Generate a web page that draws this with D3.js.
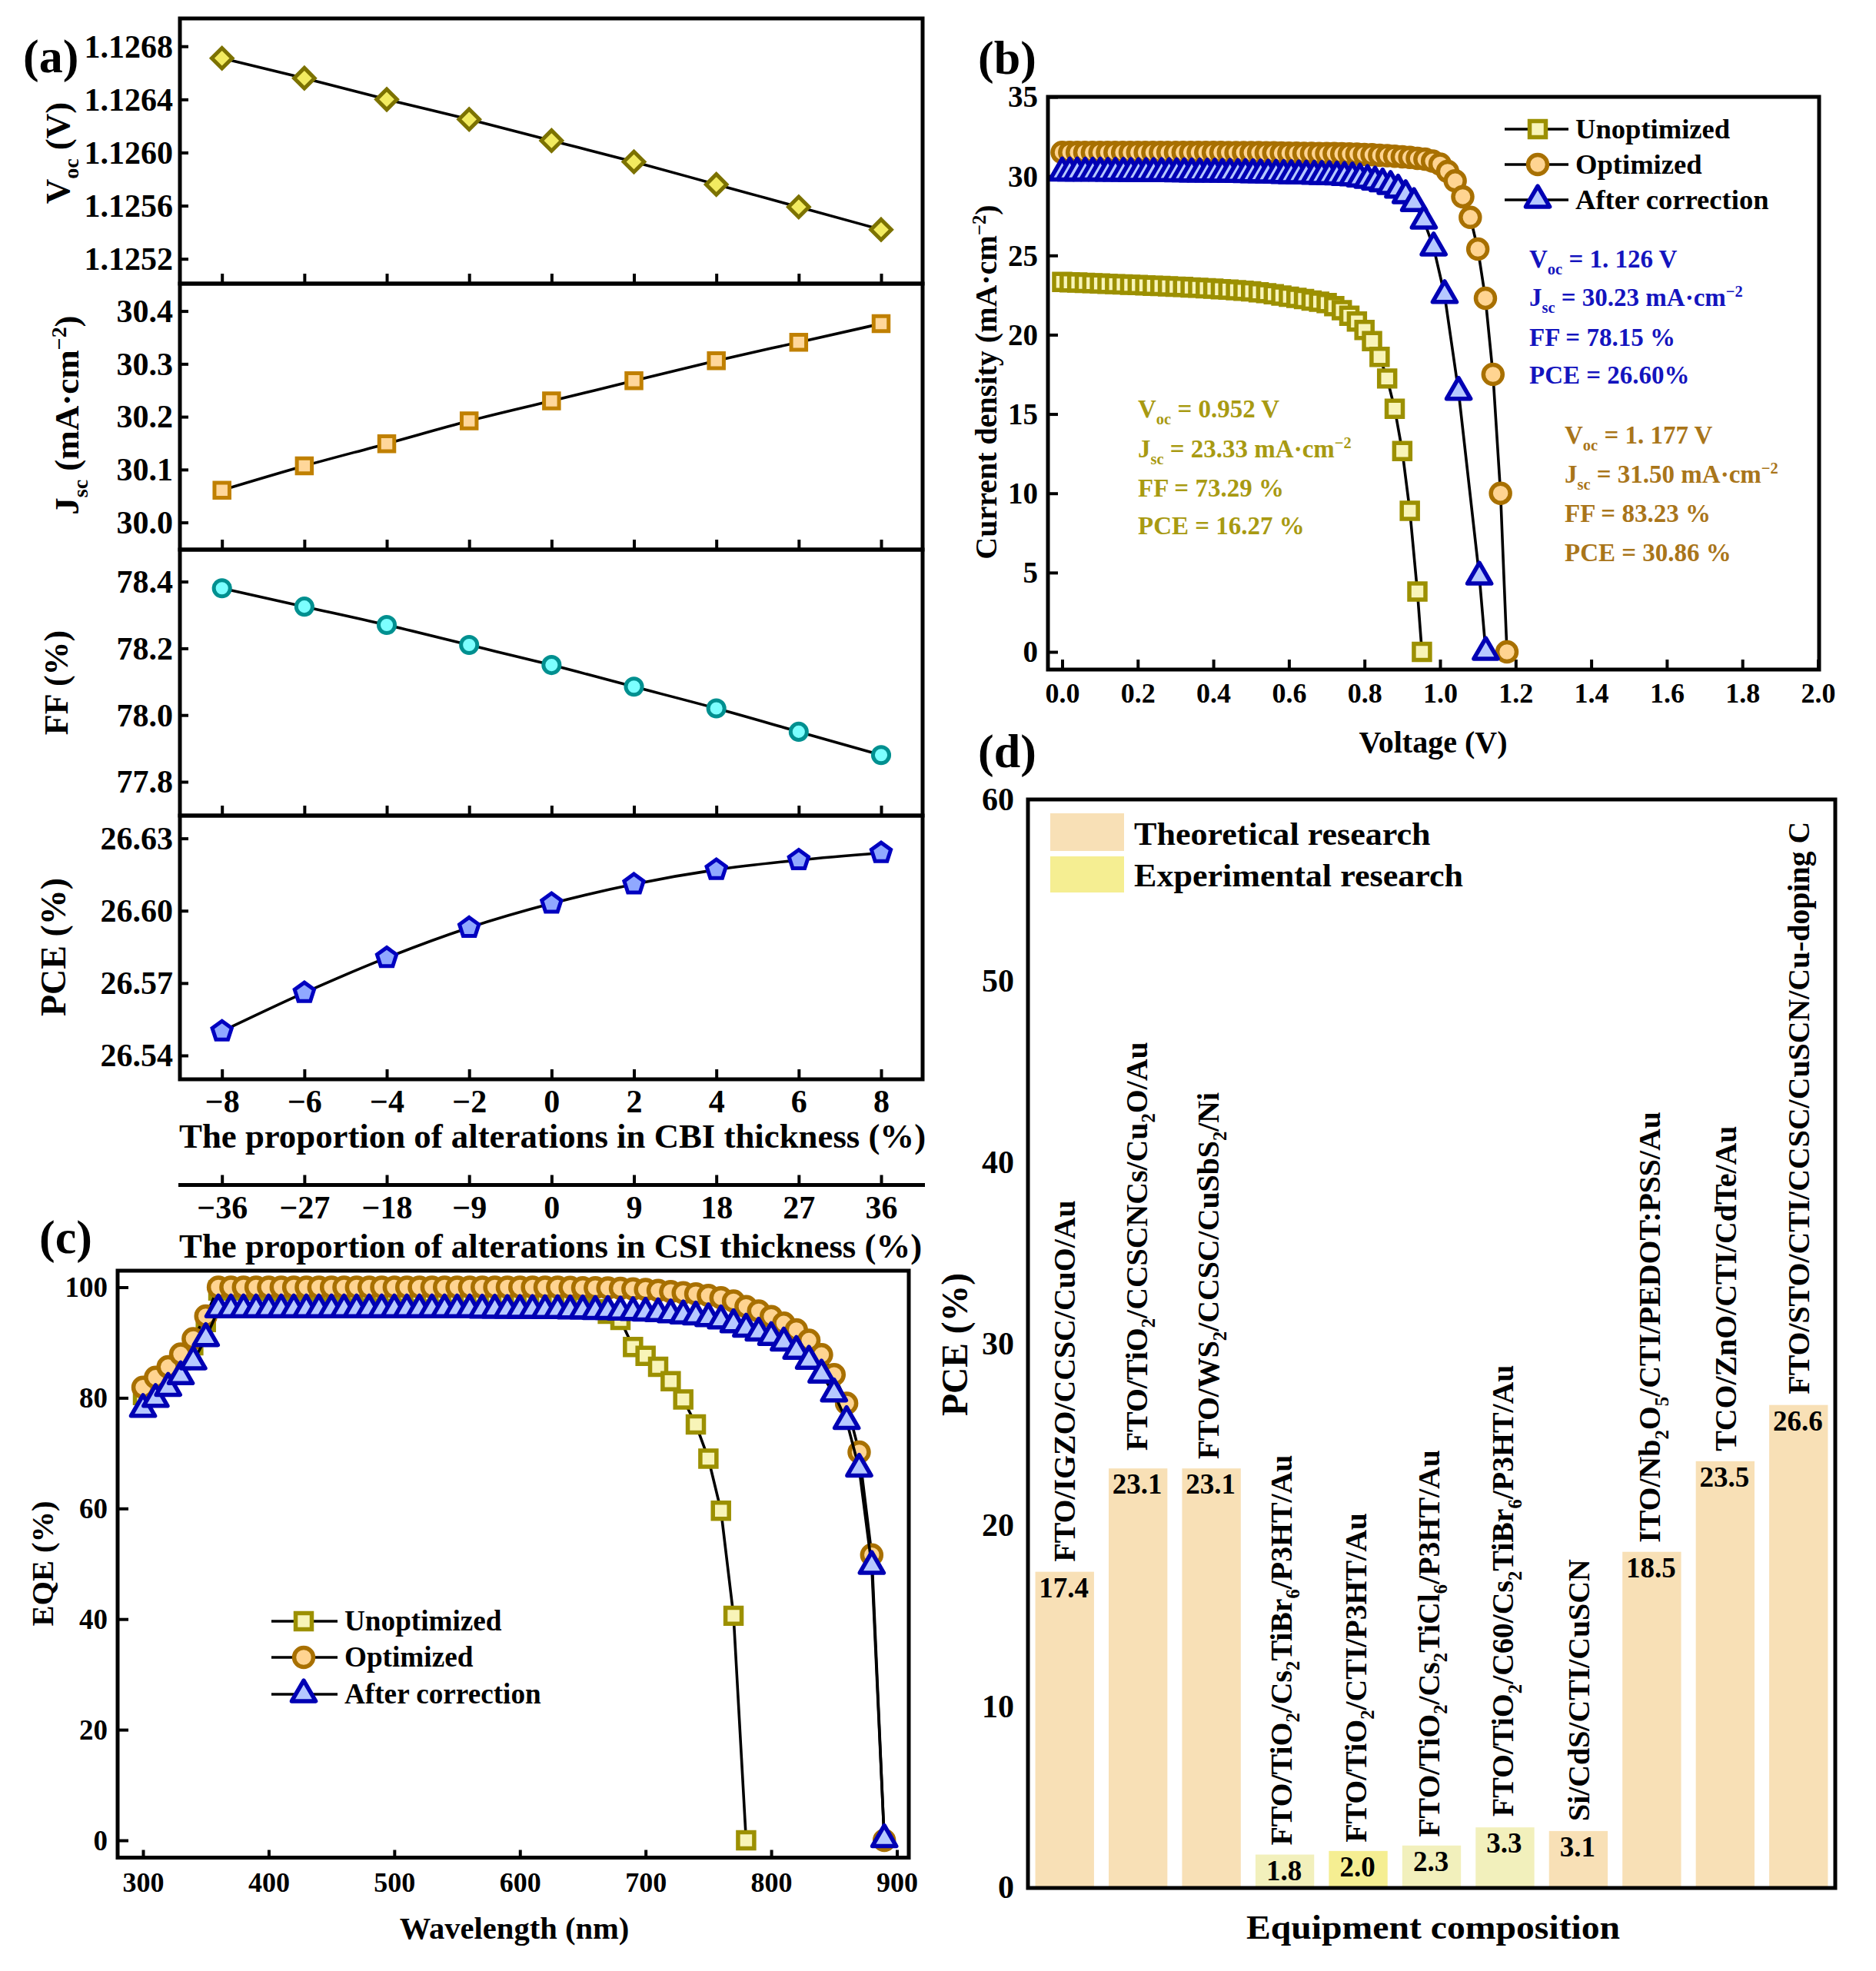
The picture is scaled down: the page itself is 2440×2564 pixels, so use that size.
<!DOCTYPE html>
<html><head><meta charset="utf-8">
<script src="https://cdnjs.cloudflare.com/ajax/libs/d3/7.8.5/d3.min.js"></script>
<style>html,body{margin:0;padding:0;background:#fff}svg{display:block}text{font-family:"Liberation Serif",serif;font-weight:bold}</style>
</head><body><svg id="c" width="2440" height="2564" viewBox="0 0 2440 2564"></svg>
<script>
// ---------- panel (a) data ----------
const cbiChange=[-8,-6,-4,-2,0,2,4,6,8];
const csiChange=[-36,-27,-18,-9,0,9,18,27,36];
const vocValues=[1.12671,1.12656,1.1264,1.12625,1.12609,1.12593,1.12576,1.12559,1.12542];
const jscValues=[30.061,30.107,30.149,30.192,30.230,30.268,30.306,30.341,30.376];
const ffValues=[78.38,78.325,78.27,78.21,78.15,78.085,78.02,77.95,77.88];
const pceValues=[26.550,26.566,26.5805,26.593,26.603,26.611,26.617,26.621,26.624];
const vocTicks=[1.1252,1.1256,1.126,1.1264,1.1268];
const jscTicks=[30.0,30.1,30.2,30.3,30.4];
const ffTicks=[77.8,78.0,78.2,78.4];
const pceTicks=[26.54,26.57,26.60,26.63];
// ---------- panel (b) data ----------
const jvVoltUnopt=[0,.02,.04,.06,.08,.10,.12,.14,.16,.18,.20,.22,.24,.26,.28,.30,.32,.34,.36,.38,.40,.42,.44,.46,.48,.50,.52,.54,.56,.58,.60,.62,.64,.66,.68,.70,.72,.74,.76,.78,.80,.82,.84,.86,.88,.90,.92,.94,.952];
const jvCurrUnopt=[23.33,23.31,23.29,23.27,23.25,23.23,23.21,23.19,23.17,23.15,23.13,23.11,23.09,23.07,23.05,23.03,23.01,22.98,22.96,22.93,22.90,22.87,22.84,22.81,22.77,22.73,22.68,22.62,22.55,22.47,22.40,22.32,22.25,22.15,22.08,22.0,21.8,21.55,21.2,20.83,20.3,19.6,18.6,17.24,15.33,12.66,8.9,3.8,0];
const jvVoltOpt=[0,.02,.04,.06,.08,.10,.12,.14,.16,.18,.20,.22,.24,.26,.28,.30,.32,.34,.36,.38,.40,.42,.44,.46,.48,.50,.52,.54,.56,.58,.60,.62,.64,.66,.68,.70,.72,.74,.76,.78,.80,.82,.84,.86,.88,.90,.92,.94,.96,.98,1.0,1.02,1.04,1.06,1.08,1.10,1.12,1.14,1.16,1.177];
const jvCurrOpt=[31.5,31.5,31.5,31.5,31.5,31.5,31.5,31.5,31.5,31.5,31.5,31.5,31.5,31.5,31.5,31.5,31.5,31.5,31.5,31.5,31.5,31.5,31.49,31.49,31.49,31.48,31.48,31.47,31.47,31.46,31.45,31.45,31.44,31.44,31.43,31.42,31.42,31.41,31.40,31.39,31.37,31.35,31.32,31.29,31.26,31.22,31.18,31.12,31.07,30.95,30.76,30.3,29.7,28.7,27.4,25.4,22.3,17.5,10.0,0];
const jvVoltCorr=[0,.020,.040,.061,.081,.101,.121,.141,.162,.182,.202,.222,.242,.263,.283,.303,.323,.343,.364,.384,.404,.424,.444,.465,.485,.505,.525,.545,.566,.586,.606,.626,.646,.667,.687,.707,.727,.747,.768,.788,.808,.828,.848,.869,.889,.909,.931,.957,.983,1.012,1.049,1.104,1.121];
const jvCurrCorr=[30.23,30.23,30.23,30.22,30.22,30.22,30.21,30.21,30.21,30.2,30.2,30.2,30.19,30.19,30.19,30.18,30.18,30.17,30.17,30.16,30.16,30.15,30.15,30.14,30.13,30.12,30.11,30.10,30.09,30.07,30.06,30.05,30.04,30.02,30.01,30.0,29.98,29.95,29.92,29.85,29.76,29.66,29.54,29.38,29.15,28.8,28.3,27.2,25.5,22.5,16.4,4.75,0];
const voltTicks=[0,.2,.4,.6,.8,1.0,1.2,1.4,1.6,1.8,2.0];
const currTicks=[0,5,10,15,20,25,30,35];
// ---------- panel (c) data ----------
const wavelengths=[300,310,320,330,340,350,360,370,380,390,400,410,420,430,440,450,460,470,480,490,500,510,520,530,540,550,560,570,580,590,600,610,620,630,640,650,660,670,680,690,700,710,720,730,740,750,760,770,780,790,800,810,820,830,840,850,860,870,880,890];
const eqeUnopt=[80.5,82.5,84.5,86.8,89.5,93.7,99.4,99.4,99.4,99.4,99.3,99.3,99.3,99.3,99.2,99.2,99.2,99.1,99.1,99.1,99.0,99.0,98.9,98.9,98.8,98.8,98.7,98.7,98.6,98.6,98.5,98.3,98.0,97.7,97.2,96.6,96.0,95.2,94.1,89.2,87.6,85.6,83,79.7,75.2,69,59.6,40.6,0];
const eqeOpt=[81.9,83.7,85.6,87.9,90.7,94.8,100,100,100,100,100,100,100,100,100,100,100,100,100,100,100,100,100,100,100,100,100,100,100,100,100,100,100,100,99.95,99.9,99.9,99.85,99.8,99.7,99.6,99.4,99.2,99,98.8,98.5,98.1,97.5,96.5,95.7,94.7,93.5,92.3,90.4,87.8,84.2,79,70.2,51.6,0];
const eqeCorr=[78,79.8,81.8,83.9,86.6,90.8,96,96,96,96,96,96,96,96,96,96,96,96,96,96,96,96,96,96,96,96,96,95.95,95.95,95.9,95.9,95.9,95.85,95.85,95.8,95.8,95.7,95.7,95.6,95.5,95.4,95.3,95.1,94.9,94.7,94.4,94,93.3,92.5,91.8,91,90,88.5,86.7,84.2,80.8,75.8,67.2,49.6,0.2];
const wlTicks=[300,400,500,600,700,800,900];
const eqeTicks=[0,20,40,60,80,100];
// ---------- panel (d) data ----------
const deviceNames=["FTO/IGZO/CCSC/CuO/Au","FTO/TiO_{2}/CCSCNCs/Cu_{2}O/Au","FTO/WS_{2}/CCSC/CuSbS_{2}/Ni","FTO/TiO_{2}/Cs_{2}TiBr_{6}/P3HT/Au","FTO/TiO_{2}/CTI/P3HT/Au","FTO/TiO_{2}/Cs_{2}TiCl_{6}/P3HT/Au","FTO/TiO_{2}/C60/Cs_{2}TiBr_{6}/P3HT/Au","Si/CdS/CTI/CuSCN","ITO/Nb_{2}O_{5}/CTI/PEDOT:PSS/Au","TCO/ZnO/CTI/CdTe/Au","FTO/STO/CTI/CCSC/CuSCN/Cu-doping C"];
const devicePCE=[17.4,23.1,23.1,1.8,2.0,2.3,3.3,3.1,18.5,23.5,26.6];
const deviceKind=["T","T","T","E1","E2","E1","E1","T","T","T","T"];
const pceBarTicks=[0,10,20,30,40,50,60];
// label placement relative to each bar (layout only)
const labelShift=[13,11.5,9,9,10,10,11,14,11,14.5,14];
const labelGap=[13,23,12,12,11,11,14,13,12,13,14];

// ---------- helpers ----------
const svg=d3.select('#c');
function txt(str,x,y,o={}){
  const size=o.size||40;
  const t=svg.append('text').attr('font-size',size).attr('text-anchor',o.anchor||'start')
    .attr('fill',o.fill||'#000')
    .attr('transform',`translate(${x},${y}) rotate(${o.rot||0}) scale(${o.sx||1},1)`);
  const parts=str.split(/(_\{[^}]*\}|\^\{[^}]*\})/).filter(s=>s.length);
  let back=0;
  parts.forEach(p=>{
    const s=t.append('tspan');
    if(p[0]==='_'&&p[1]==='{'){s.text(p.slice(2,-1)).attr('font-size',size*.62).attr('dy',size*.26+back);back=-size*.26;}
    else if(p[0]==='^'&&p[1]==='{'){s.text(p.slice(2,-1)).attr('font-size',size*.62).attr('dy',-size*.36+back);back=size*.36;}
    else{s.text(p);if(back)s.attr('dy',back);back=0;}
  });
  return t;
}
const pentagon={draw(ctx,size){const r=Math.sqrt(size/2.378);for(let i=0;i<5;i++){const a=-Math.PI/2+i*2*Math.PI/5;const x=r*Math.cos(a),y=r*Math.sin(a);i?ctx.lineTo(x,y):ctx.moveTo(x,y);}ctx.closePath();}};
function frame(x0,y0,x1,y1,sw){svg.append('rect').attr('x',x0).attr('y',y0).attr('width',x1-x0).attr('height',y1-y0).attr('fill','none').attr('stroke','#000').attr('stroke-width',sw||5);}
function xAxis(scale,y,ticks,fmt,o={}){
  const g=svg.append('g').attr('transform',`translate(0,${y})`);
  g.call(d3.axisBottom(scale).tickValues(ticks).tickSizeOuter(0).tickSizeInner(-(o.tick||12)).tickFormat(fmt||''));
  g.select('.domain').remove();
  g.selectAll('.tick line').attr('stroke','#000').attr('stroke-width',o.tw||4);
  g.selectAll('.tick text').attr('dy',0).attr('y',o.base||0).attr('font-size',o.size||40).attr('fill','#000').attr('font-family',null);
  return g;
}
function yAxis(scale,x,ticks,fmt,o={}){
  const g=svg.append('g').attr('transform',`translate(${x},0)`);
  const a=d3.axisLeft(scale).tickValues(ticks).tickSizeOuter(0).tickFormat(fmt).tickPadding(o.pad||9);
  a.tickSizeInner(o.tick===0?0:-(o.tick||12));
  g.call(a);
  g.select('.domain').remove();
  g.selectAll('.tick line').attr('stroke','#000').attr('stroke-width',o.tw||4);
  g.selectAll('.tick text').attr('dy','0.33em').attr('font-size',o.size||42).attr('fill','#000').attr('font-family',null);
  return g;
}
function series(xs,ys,xsc,ysc,st,curve){
  const pts=xs.map((x,i)=>[x,ys[i]]).filter(p=>p[1]!==undefined);
  const line=d3.line().x(d=>xsc(d[0])).y(d=>ysc(d[1])).curve(curve||d3.curveLinear);
  svg.append('path').attr('d',line(pts)).attr('fill','none').attr('stroke','#000').attr('stroke-width',st.lw||3.6);
  const sym=d3.symbol().type(st.type).size(st.size);
  svg.append('g').selectAll('path').data(pts).join('path')
    .attr('d',sym).attr('transform',d=>`translate(${xsc(d[0])},${ysc(d[1])})`)
    .attr('fill',st.fill).attr('stroke',st.stroke).attr('stroke-width',st.sw||5).attr('stroke-linejoin',st.join||'miter');
}
function legendRow(x0,x1,mx,y,st,label,tx,size){
  svg.append('line').attr('x1',x0).attr('x2',x1).attr('y1',y).attr('y2',y).attr('stroke','#000').attr('stroke-width',3.6);
  svg.append('path').attr('d',d3.symbol().type(st.type).size(st.size)()).attr('transform',`translate(${mx},${y})`)
    .attr('fill',st.fill).attr('stroke',st.stroke).attr('stroke-width',st.sw||5).attr('stroke-linejoin',st.join||'miter');
  txt(label,tx,y+size*.33,{size});
}
const stUn={type:d3.symbolSquare,size:440,fill:'#F8F4B8',stroke:'#9C9000',sw:5.5};
const stOp={type:d3.symbolCircle,size:490,fill:'#FFD491',stroke:'#A87000',sw:5.5};
const stCo={type:d3.symbolTriangle,size:420,fill:'#B6C8FF',stroke:'#0000B4',join:'round',sw:5.5};

// ---------- panel (a) ----------
const aX=d3.scaleLinear().domain([-8,8]).range([288.7,1146]);
const aX2=d3.scaleLinear().domain([-36,36]).range([288.7,1146]);
const minus=d=>d3.format('d')(d).replace('-','\u2212');
const aPanels=[
 {y0:24,y1:369,dom:[1.1252,1.1268],rng:[336.7,60.2],vals:vocValues,ticks:vocTicks,fmt:d3.format('.4f'),
  st:{type:d3.symbolDiamond2,size:450,fill:'#F2EB60',stroke:'#7C7200',sw:5}},
 {y0:369,y1:715,dom:[30.0,30.4],rng:[679.6,404.6],vals:jscValues,ticks:jscTicks,fmt:d3.format('.1f'),
  st:{type:d3.symbolSquare,size:380,fill:'#FFD79A',stroke:'#C08000',sw:5}},
 {y0:715,y1:1061,dom:[77.8,78.4],rng:[1017,756.6],vals:ffValues,ticks:ffTicks,fmt:d3.format('.1f'),
  st:{type:d3.symbolCircle,size:350,fill:'#7CFFFF',stroke:'#009090',sw:5}},
 {y0:1061,y1:1404,dom:[26.54,26.63],rng:[1373,1090.6],vals:pceValues,ticks:pceTicks,fmt:d3.format('.2f'),
  st:{type:pentagon,size:420,fill:'#90A8FF',stroke:'#0000C0',sw:5}}];
aPanels.forEach((p,i)=>{
  const y=d3.scaleLinear().domain(p.dom).range(p.rng);
  yAxis(y,234,p.ticks,p.fmt,{size:42,tick:11,pad:9});
  xAxis(aX,p.y1,cbiChange,i===3?minus:(()=>''),{size:42,base:43,tick:13});
  series(cbiChange,p.vals,aX,y,p.st,d3.curveMonotoneX);
  frame(234,p.y0,1200,p.y1);
});
svg.append('line').attr('x1',232).attr('x2',1203).attr('y1',1541.5).attr('y2',1541.5).attr('stroke','#000').attr('stroke-width',5);
xAxis(aX2,1541.5,csiChange,minus,{size:42,base:43,tick:13});
txt('The proportion of alterations in CBI thickness (%)',233,1493,{size:44.8});
txt('The proportion of alterations in CSI thickness (%)',233,1636,{size:44.8});
txt('V_{oc} (V)',90,199,{size:45,rot:-90,anchor:'middle'});
txt('J_{sc} (mA·cm^{\u22122})',102,540,{size:45,rot:-90,anchor:'middle'});
txt('FF (%)',88,888,{size:44,rot:-90,anchor:'middle'});
txt('PCE (%)',85,1232,{size:46,rot:-90,anchor:'middle'});
txt('(a)',30,94,{size:62});

// ---------- panel (b) ----------
const bX=d3.scaleLinear().domain([0,2]).range([1381.5,2364.5]);
const bY=d3.scaleLinear().domain([0,35]).range([848,126]);
yAxis(bY,1363,currTicks,d3.format('d'),{size:39,pad:13,tick:13});
xAxis(bX,871,voltTicks,d3.format('.1f'),{size:36,base:43,tick:13});
series(jvVoltUnopt,jvCurrUnopt,bX,bY,stUn);
series(jvVoltOpt,jvCurrOpt,bX,bY,stOp);
series(jvVoltCorr,jvCurrCorr,bX,bY,stCo);
frame(1363,126,2366,871);
legendRow(1957,2040,2000,168,stUn,'Unoptimized',2049,36.6);
legendRow(1957,2040,2000,214,stOp,'Optimized',2049,36.6);
legendRow(1957,2040,2000,260,stCo,'After correction',2049,36.6);
const blue='#1414BE',olive='#A89A12',brown='#A9751A';
[['V_{oc} = 1. 126 V',348],['J_{sc} = 30.23 mA·cm^{\u22122}',398],['FF = 78.15 %',450],['PCE = 26.60%',499]].forEach(r=>txt(r[0],1989,r[1],{size:33,fill:blue}));
[['V_{oc} = 0.952 V',543],['J_{sc} = 23.33 mA·cm^{\u22122}',595],['FF = 73.29 %',646],['PCE = 16.27 %',695]].forEach(r=>txt(r[0],1480,r[1],{size:33,fill:olive}));
[['V_{oc} = 1. 177 V',577],['J_{sc} = 31.50 mA·cm^{\u22122}',628],['FF = 83.23 %',679],['PCE = 30.86 %',730]].forEach(r=>txt(r[0],2035,r[1],{size:33,fill:brown}));
txt('Current density (mA·cm^{\u22122})',1296,497,{size:40,rot:-90,anchor:'middle'});
txt('Voltage (V)',1864,979,{size:40,anchor:'middle'});
txt('(b)',1272,96,{size:62});

// ---------- panel (c) ----------
const cX=d3.scaleLinear().domain([300,900]).range([186,1166.5]);
const cY=d3.scaleLinear().domain([0,100]).range([2394,1674.5]);
yAxis(cY,153,eqeTicks,d3.format('d'),{size:37,pad:13,tick:14});
xAxis(cX,2416.5,wlTicks,d3.format('d'),{size:36,base:44,tick:10});
series(wavelengths,eqeUnopt,cX,cY,stUn);
series(wavelengths,eqeOpt,cX,cY,stOp);
series(wavelengths,eqeCorr,cX,cY,stCo);
frame(153,1653,1182,2416.5);
legendRow(353,439,395,2109,stUn,'Unoptimized',448,37.2);
legendRow(353,439,395,2156,stOp,'Optimized',448,37.2);
legendRow(353,439,395,2204,stCo,'After correction',448,37.2);
txt('EQE (%)',69,2034,{size:40.5,rot:-90,anchor:'middle'});
txt('Wavelength (nm)',669,2522,{size:40.6,anchor:'middle'});
txt('(c)',51,1630,{size:62});

// ---------- panel (d) ----------
const dX=d3.scaleBand().domain(d3.range(deviceNames.length)).range([1337,2387]).paddingInner(.2).paddingOuter(.1);
const dY=d3.scaleLinear().domain([0,60]).range([2455,1040]);
const kindColor={T:'#F8E0B6',E1:'#F2F0BC',E2:'#F5EE92'};
svg.append('g').selectAll('rect').data(devicePCE).join('rect')
  .attr('x',(d,i)=>dX(i)).attr('width',dX.bandwidth()).attr('y',d=>dY(d)).attr('height',d=>dY(0)-dY(d))
  .attr('fill',(d,i)=>kindColor[deviceKind[i]]);
devicePCE.forEach((v,i)=>{
  const cx=dX(i)+dX.bandwidth()/2;
  txt(v.toFixed(1),cx-1,dY(v)+33,{size:37,anchor:'middle'});
  txt(deviceNames[i],cx+labelShift[i],dY(v)-labelGap[i],{size:39.8,rot:-90});
});
yAxis(dY,1337,pceBarTicks,d3.format('d'),{size:42,tick:0,pad:18});
frame(1337,1040,2387,2456);
svg.append('rect').attr('x',1366).attr('y',1058).attr('width',96).attr('height',49).attr('fill',kindColor.T);
svg.append('rect').attr('x',1366).attr('y',1114).attr('width',96).attr('height',47).attr('fill',kindColor.E2);
txt('Theoretical research',1475,1099,{size:42,sx:1.05});
txt('Experimental research',1475,1153,{size:42,sx:1.05});
txt('PCE (%)',1258,1749,{size:47.5,rot:-90,anchor:'middle'});
txt('Equipment composition',1864,2522,{size:45,anchor:'middle',sx:1.06});
txt('(d)',1272,998,{size:62});
</script></body></html>
